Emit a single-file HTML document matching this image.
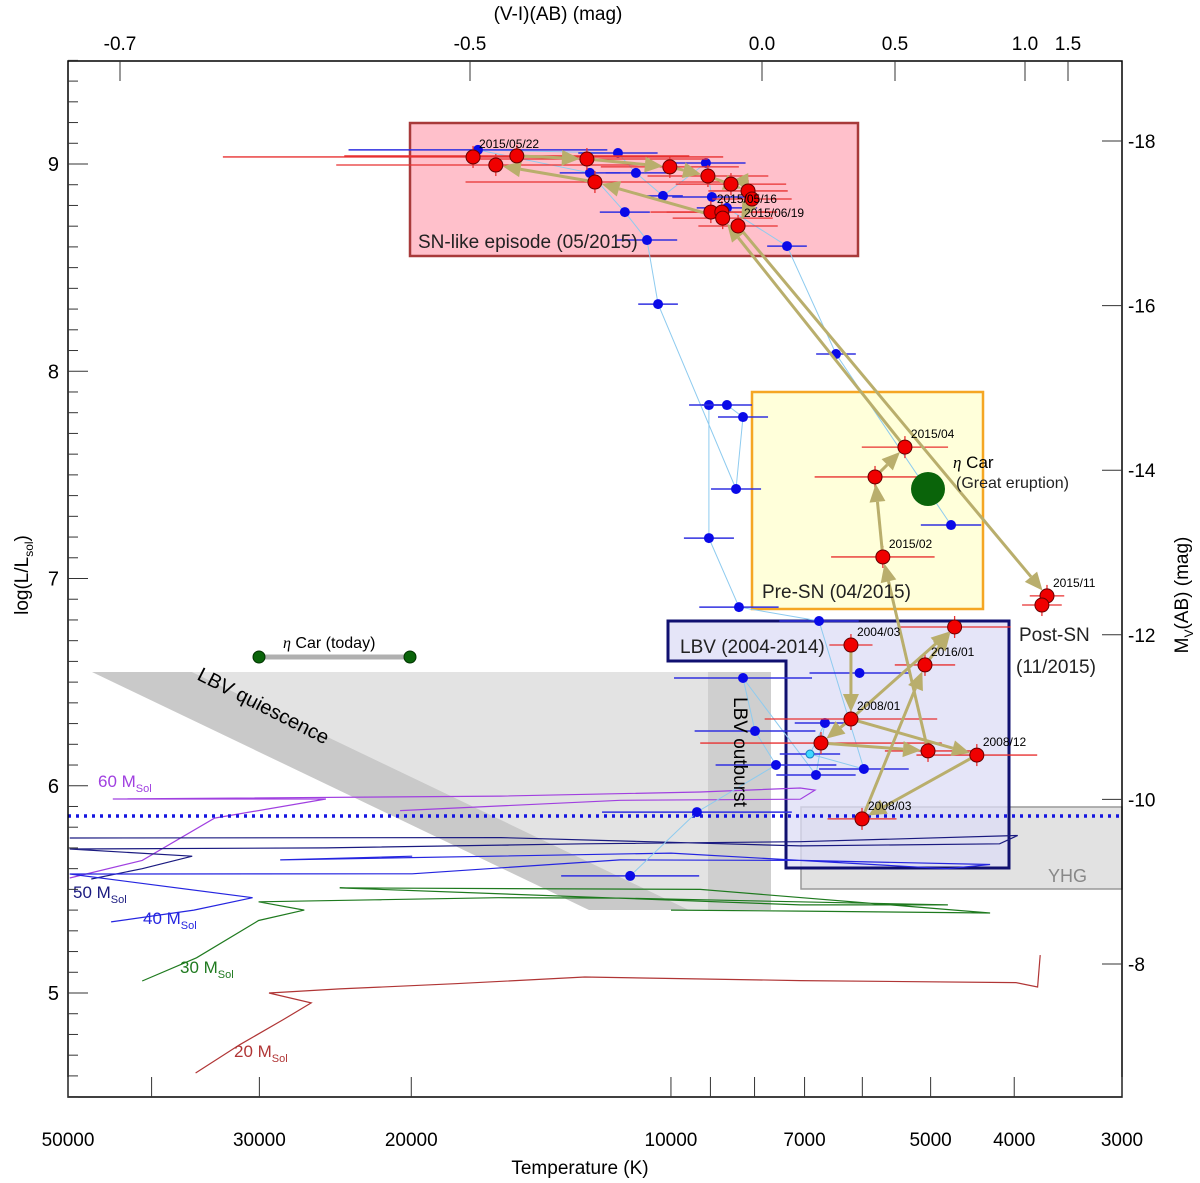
<!DOCTYPE html>
<html><head><meta charset="utf-8"><style>
body{margin:0;background:#fff}
svg{display:block;font-family:"Liberation Sans",sans-serif}
</style></head><body>
<svg id="c" width="1200" height="1183" viewBox="0 0 1200 1183" xmlns="http://www.w3.org/2000/svg"></svg>
<script>
// ---- data ----
const redT=[16960,15960,15090,12515,12250,10030,9060,8520,8140,8055,8990,8730,8710,8360,5355,5800,5680,3665,3715,6185,4690,5076,6185,6700,5035,4420,6005];
const redL=[9.034,8.995,9.039,9.024,8.913,8.986,8.942,8.903,8.870,8.831,8.768,8.768,8.739,8.701,7.634,7.490,7.104,6.916,6.872,6.679,6.766,6.583,6.322,6.206,6.168,6.148,5.840];
const redErr=[0.29,0.185,0.2,0.14,0.15,0.08,0.07,0.064,0.046,0.046,0.07,0.064,0.058,0.046,0.05,0.07,0.06,0.02,0.023,0.025,0.065,0.035,0.1,0.14,0.05,0.07,0.04];
const blueT=[16740,11520,12415,10980,10215,9110,8965,11310,8612,10660,7336,10350,6437,9036,8612,8250,8405,9036,4735,8340,6735,8250,6045,6630,7990,7555,6790,5975,9330,11150,6900];
const blueL=[9.068,9.053,8.957,8.957,8.846,9.005,8.841,8.768,8.788,8.633,8.604,8.324,8.083,7.837,7.837,7.779,7.432,7.195,7.258,6.862,6.795,6.520,6.544,6.303,6.264,6.100,6.052,6.081,5.873,5.565,6.153];
const blueErr=[0.15,0.046,0.035,0.035,0.023,0.046,0.046,0.029,0.035,0.035,0.023,0.023,0.023,0.023,0.029,0.029,0.029,0.029,0.035,0.046,0.046,0.08,0.058,0.035,0.07,0.07,0.046,0.052,0.11,0.08,0.035];
const blueOrder=[29,28,25,24,21,26,23,30,27,20,19,17,13,14,15,16,11,9,7,2,0,1,3,4,5,6,8,10,12,18];
const arrows=[[2,3],[3,5],[5,6],[6,8],[8,9],[9,13],[13,17],[14,12],[12,4],[4,1],[16,15],[15,14],[19,22],[22,23],[23,24],[22,25],[25,26],[26,21],[24,16],[21,20],[22,20]];
const dateLabels=["2015/05/22","2015/05/16","2015/06/19","2015/04","2015/02","2015/11","2004/03","2016/01","2008/01","2008/12","2008/03"];
const dateIdx=[0,10,13,14,16,17,19,21,22,25,26];
const track60=[[4.697,5.555],[4.613,5.64],[4.529,5.844],[4.400,5.936],[4.647,5.936],[4.198,5.95],[3.966,5.97],[3.850,5.989],[3.833,5.979],[3.85,5.935],[4.059,5.93],[4.314,5.88]];
const track50=[[4.672,5.55],[4.613,5.6],[4.555,5.66],[4.697,5.695],[4.4,5.70],[4.1,5.72],[3.85,5.73],[3.598,5.76],[3.619,5.72],[3.85,5.71],[4.197,5.75],[4.697,5.748]];
const track40=[[4.649,5.343],[4.553,5.40],[4.485,5.46],[4.697,5.574],[4.3,5.575],[4.059,5.642],[3.85,5.64],[3.63,5.62],[3.68,5.60],[4.0,5.675],[4.453,5.642],[4.30,5.66]];
const track30=[[4.613,5.058],[4.55,5.17],[4.478,5.35],[4.425,5.40],[4.478,5.44],[4.2,5.46],[4.059,5.458],[3.679,5.425],[3.85,5.425],[4.384,5.507],[3.966,5.50],[3.63,5.386],[3.85,5.395],[4.0,5.40]];
const track20=[[4.551,4.614],[4.50,4.75],[4.45,4.87],[4.417,4.952],[4.466,5.0],[4.384,5.02],[4.25,5.045],[4.1,5.077],[3.85,5.06],[3.6,5.05],[3.575,5.029],[3.572,5.183]];
const tempTicks=[50000,40000,30000,20000,10000,9000,8000,7000,6000,5000,4000,3000];
const tempLabels=[50000,30000,20000,10000,7000,5000,4000,3000];
const lumLabels=[9,8,7,6,5];
const mvLabels=[-18,-16,-14,-12,-10,-8];
const viLabels=["-0.7","-0.5","0.0","0.5","1.0","1.5"];
const viPos=[120,470,762,895,1025,1068];

// ---- axes ----
const X0=68,X1=1122,Y0=61,Y1=1097;
const lx=lt=>X0+(Math.log10(50000)-lt)/Math.log10(50000/3000)*(X1-X0);
const xT=T=>lx(Math.log10(T));
const yL=L=>164+(9-L)*207.25;
const yM=M=>141+(M+18)*82.3;
const NS="http://www.w3.org/2000/svg";
const svg=document.getElementById('c');
function el(tag,attrs,parent){const e=document.createElementNS(NS,tag);for(const k in attrs)e.setAttribute(k,attrs[k]);(parent||svg).appendChild(e);return e;}
function txt(s,attrs,parent){const e=el('text',attrs,parent);e.textContent=s;return e;}

let e;
e=el('polygon',{points:`192,672 771,672 771,910 689,910`,fill:'#e3e3e3'});

e=el('polygon',{points:`92,672 192,672 689,910 589,910`,fill:'#c9c9c9'});

e=el('rect',{x:708,y:672,width:63,height:238,fill:'#cfcfcf'});

e=el('rect',{x:801,y:807,width:321,height:82,fill:'#e2e2e2',stroke:'#999','stroke-width':1.5});

e=el('rect',{x:410,y:123,width:448,height:133,fill:'#ffc0cb',stroke:'#a83a3a','stroke-width':2.5});

e=el('rect',{x:752,y:392,width:231,height:217,fill:'#ffffd6',stroke:'#f5a623','stroke-width':2.5,'fill-opacity':0.9});

e=el('polygon',{points:'668,621 1009,621 1009,868 786,868 786,661 668,661',fill:'#dcdcf5','fill-opacity':0.75,stroke:'#101070','stroke-width':3});


const tracks=[[track60,'#a040e0','track-60'],[track50,'#1a1a80','track-50'],[track40,'#2525e0','track-40'],[track30,'#1f7a1f','track-30'],[track20,'#b03535','track-20']];
tracks.forEach(t=>{
  e=el('polyline',{points:t[0].map(p=>lx(p[0]).toFixed(1)+','+yL(p[1]).toFixed(1)).join(' '),fill:'none',stroke:t[1],'stroke-width':1.2});
  
});

e=el('line',{x1:X0,x2:X1,y1:816,y2:816,stroke:'#1515e0','stroke-width':3.5,'stroke-dasharray':'3 5'});


e=el('polyline',{points:blueOrder.map(i=>xT(blueT[i]).toFixed(1)+','+yL(blueL[i]).toFixed(1)).join(' '),fill:'none',stroke:'#8ecbef','stroke-width':1});


blueT.forEach((T,i)=>{
  const x=xT(T),y=yL(blueL[i]);
  const lt=Math.log10(T);
  e=el('line',{x1:lx(lt+blueErr[i]),x2:lx(lt-blueErr[i]),y1:y,y2:y,stroke:'#3030e0','stroke-width':1.5});
  
  const cy=i===30;
  e=el('circle',{cx:x,cy:y,r:cy?4:5,fill:cy?'#40d8ff':'#0a0ae8',stroke:cy?'#1080c0':'none'});
  
});

redT.forEach((T,i)=>{
  const x=xT(T),y=yL(redL[i]),lt=Math.log10(T);
  e=el('line',{x1:lx(lt+redErr[i]),x2:lx(lt-redErr[i]),y1:y,y2:y,stroke:'#e83030','stroke-width':1.3});
  
  e=el('line',{x1:x,x2:x,y1:y-11,y2:y+11,stroke:'#e83030','stroke-width':1.3});
  
});

arrows.forEach(a=>{
  const x1=xT(redT[a[0]]),y1=yL(redL[a[0]]),x2=xT(redT[a[1]]),y2=yL(redL[a[1]]);
  const dx=x2-x1,dy=y2-y1,d=Math.hypot(dx,dy),ux=dx/d,uy=dy/d;
  const tx=x2-ux*7,ty=y2-uy*7,bx=tx-ux*18,by=ty-uy*18;
  e=el('line',{x1:x1,y1:y1,x2:bx,y2:by,stroke:'#b9ae6c','stroke-width':3});
  
  e=el('polygon',{points:`${tx},${ty} ${bx-uy*8},${by+ux*8} ${bx+uy*8},${by-ux*8}`,fill:'#b9ae6c'});
  
});

redT.forEach((T,i)=>{
  e=el('circle',{cx:xT(T),cy:yL(redL[i]),r:7,fill:'#f00000',stroke:'#600','stroke-width':1});
  
});
dateIdx.forEach((k,i)=>{
  e=txt(dateLabels[i],{x:xT(redT[k])+6,y:yL(redL[k])-9,'font-size':12,fill:'#000'});
  
});

e=el('circle',{cx:928,cy:489,r:17,fill:'#0a640a'});

e=el('line',{x1:259,x2:410,y1:657,y2:657,stroke:'#b0b0b0','stroke-width':5});

[259,410].forEach(x=>{e=el('circle',{cx:x,cy:657,r:6,fill:'#0a640a',stroke:'#030','stroke-width':1});
});

const ann=[["SN-like episode (05/2015)",418,248,19,'#222','sn-label'],["Pre-SN (04/2015)",762,598,19,'#222','pre-sn-label'],["LBV (2004-2014)",680,653,19,'#222','lbv-label'],["Post-SN",1019,641,19,'#222','post-sn-label'],["(11/2015)",1016,673,19,'#222','post-sn-date'],["(Great eruption)",956,488,16,'#222','great-eruption-label'],["YHG",1048,882,18,'#888','yhg-label']];
ann.forEach(a=>{e=txt(a[0],{x:a[1],y:a[2],'font-size':a[3],fill:a[4]});});
e=txt('',{x:953,y:468,'font-size':17});e.innerHTML='<tspan font-style="italic" font-family="Liberation Serif">η</tspan> Car';

e=txt('',{x:283,y:648,'font-size':16});e.innerHTML='<tspan font-style="italic" font-family="Liberation Serif">η</tspan> Car (today)';

e=txt('LBV quiescence',{x:0,y:0,'font-size':20,transform:'translate(196,679) rotate(27)'});

e=txt('LBV outburst',{x:0,y:0,'font-size':19,transform:'translate(734,697) rotate(90)'});

const tl=[["60",98,787,'#a040e0','label-60'],["50",73,898,'#1a1a80','label-50'],["40",143,924,'#2525e0','label-40'],["30",180,973,'#1f7a1f','label-30'],["20",234,1057,'#b03535','label-20']];
tl.forEach(a=>{e=txt('',{x:a[1],y:a[2],'font-size':17,fill:a[3]});e.innerHTML=a[0]+' M<tspan font-size="11" dy="5">Sol</tspan>';
});

e=el('rect',{x:X0,y:Y0,width:X1-X0,height:Y1-Y0,fill:'none',stroke:'#000','stroke-width':1.5});

tempTicks.forEach(T=>{e=el('line',{x1:xT(T),x2:xT(T),y1:Y1,y2:Y1-20,stroke:'#333','stroke-width':1});});
tempLabels.forEach(T=>{e=txt(String(T),{x:xT(T),y:1146,'font-size':19,'text-anchor':'middle'});});
e=txt('Temperature (K)',{x:580,y:1174,'font-size':19,'text-anchor':'middle'});
for(let k=45;k<=95;k++){const L=k/10,maj=k%10===0;e=el('line',{x1:X0,x2:X0+(maj?20:10),y1:yL(L),y2:yL(L),stroke:'#333','stroke-width':1});}
lumLabels.forEach(L=>{e=txt(String(L),{x:59,y:yL(L)+7,'font-size':20,'text-anchor':'end'});});
e=txt('',{x:0,y:0,'font-size':19,'text-anchor':'middle',transform:'translate(28,575) rotate(-90)'});e.innerHTML='log(L/L<tspan font-size="12" dy="5">sol</tspan><tspan dy="-5">)</tspan>';

mvLabels.forEach(M=>{e=el('line',{x1:X1,x2:X1-20,y1:yM(M),y2:yM(M),stroke:'#333','stroke-width':1});
e=txt(String(M),{x:1128,y:yM(M)+7,'font-size':19});});
e=txt('',{x:0,y:0,'font-size':19,'text-anchor':'middle',transform:'translate(1188,595) rotate(-90)'});e.innerHTML='M<tspan font-size="12" dy="5">V</tspan><tspan dy="-5">(AB) (mag)</tspan>';

viLabels.forEach((s,i)=>{e=el('line',{x1:viPos[i],x2:viPos[i],y1:Y0,y2:Y0+20,stroke:'#333','stroke-width':1});
e=txt(s,{x:viPos[i],y:50,'font-size':19,'text-anchor':'middle'});});
e=txt('(V-I)(AB) (mag)',{x:558,y:20,'font-size':19,'text-anchor':'middle'});
</script>
</body></html>
